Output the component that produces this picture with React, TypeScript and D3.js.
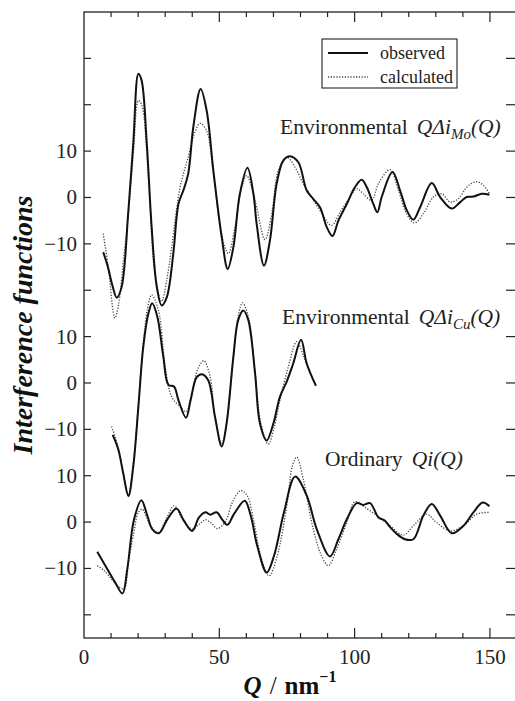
import React from "react";
import * as d3 from "d3";

type P = [number, number];

// Environmental Q·Δi_Mo(Q)
const moObserved: P[] = [[7.1,-11.8],[8.7,-14.7],[10.5,-19],[12.1,-21.6],[13.9,-19.3],[16.4,-2.8],[18.2,11.6],[20.1,26.7],[21.3,25.2],[23.2,11.6],[25.0,-6.4],[26.9,-19.3],[28.7,-23.3],[30.6,-21.5],[33.0,-12.1],[34.9,-1.4],[36.7,1.5],[38.5,5.1],[40.4,15.2],[43.1,23.4],[45.3,18.8],[47.8,5.8],[50.9,-8.6],[53.1,-15.4],[55.2,-10.7],[57.6,0.8],[60.4,6.4],[62.6,0.8],[63.8,-5.7],[66.5,-14.7],[68.7,-9.3],[71.2,3.0],[73.7,8.0],[76.1,8.9],[79.2,7.6],[82.3,1.5],[84.7,-0.3],[87.2,-2.1],[89.7,-6.4],[91.8,-8.3],[94.0,-5.0],[97.1,-1.4],[100.1,2.2],[102.6,3.8],[104.5,2.2],[106.9,-1.4],[108.4,-3.2],[110.0,0.1],[114.0,5.5],[116.8,1.5],[119.3,-2.8],[121.7,-4.8],[124.2,-2.1],[128.5,3.1],[131.6,0.1],[135.9,-2.4],[139.0,-1.0],[141.4,0.1],[143.9,0.2],[147.0,0.8],[149.8,0.6]];
const moCalculated: P[] = [[7.1,-7.8],[9.0,-15.0],[11.4,-26.0],[12.8,-23],[14.5,-14],[16.4,-3.5],[18.3,10],[20.1,20.9],[21.3,20.0],[23.8,4.4],[26.2,-16.5],[28.7,-22.4],[30.5,-18],[32.4,-10.7],[35.5,2.2],[38.5,8.7],[41.0,14.1],[42.9,16.0],[45.3,14.4],[47.8,5.1],[50.9,-8.1],[53.3,-12.1],[55.8,-6.4],[58.3,2.2],[60.1,4.7],[62.6,0.8],[63.8,-2.1],[66.9,-9.1],[69.4,-3.5],[71.8,5.8],[74.9,8.7],[78.0,6.5],[81.0,3.0],[84.1,0.1],[87.2,-2.8],[91.5,-6.0],[94.6,-3.2],[98.3,0.1],[100.8,1.9],[103.2,0.8],[106.3,-0.6],[108.8,3.0],[113.1,6.0],[116.2,1.5],[119.2,-3.5],[122.1,-5.5],[125.4,-3.5],[129.1,0.1],[132.2,0.8],[135.3,-1.0],[138.3,-0.3],[141.4,2.2],[144.9,3.4],[147.6,2.6],[149.8,0.8]];

// Environmental Q·Δi_Cu(Q)
const cuObserved: P[] = [[10.6,-11.2],[12.7,-14.4],[14.5,-19.5],[16.4,-24.4],[18.2,-18.0],[20.1,-5.1],[21.9,7.8],[23.8,15.0],[25.2,17.2],[27.1,14.3],[29.3,5.7],[31.2,-0.4],[33.3,-0.8],[34.9,-3.7],[37.7,-7.5],[39.4,-3.7],[41.6,1.2],[43.5,1.9],[45.9,0.6],[48.4,-7.3],[50.9,-13.7],[52.7,-8.7],[55.2,5.7],[57.0,13.6],[58.9,15.6],[60.7,13.6],[63.2,2.1],[65.0,-8.7],[67.5,-12.4],[70.0,-8.7],[72.4,-3.0],[74.9,0.3],[77.3,4.2],[80.2,9.3],[82.3,4.2],[85.7,-0.6]];
const cuCalculated: P[] = [[10.2,-9.4],[12.7,-14.0],[14.5,-19.5],[16.4,-24.0],[18.2,-17.5],[20.1,-4.5],[21.9,8.5],[23.6,16.5],[25.0,19.0],[27.5,15.7],[30.0,3.5],[32.4,-3.0],[35.5,-5.1],[37.7,-6.2],[39.8,-2.2],[42.2,3.2],[44.3,4.8],[46.6,1.4],[48.4,-7.3],[50.9,-13.0],[52.7,-8.5],[55.2,5.5],[57.0,14.5],[58.6,17.3],[60.7,14.3],[63.2,2.5],[65.3,-8.5],[68.1,-13.2],[70.3,-9.5],[72.4,-3.7],[75.5,3.5],[78.6,8.9],[81.0,6.0],[83.2,2.5],[85.4,-0.2]];

// Ordinary Q·i(Q)
const ordObserved: P[] = [[4.9,-6.4],[8.6,-10.1],[11.5,-13],[14.2,-15.4],[16.0,-10.1],[18.5,0.6],[21.2,4.7],[23.4,1.4],[25.2,-1.5],[27.7,-2.4],[30.8,0.6],[34.2,2.9],[36.9,0.3],[40.0,-1.9],[42.5,1.0],[44.9,2.1],[46.7,1.6],[49.0,2.1],[51.0,0.6],[53.0,-0.6],[55.4,1.7],[59.4,4.6],[61.6,1.4],[64.0,-5.1],[67.5,-10.9],[70.2,-7.3],[73.9,2.1],[78.0,9.8],[82.3,5.7],[86.0,-1.5],[90.9,-7.4],[94.0,-3.7],[97.1,0.6],[100.8,4.1],[103.2,3.7],[105.7,4.1],[108.8,1.0],[111.2,0.3],[113.1,-1.1],[115.5,-2.5],[118.6,-3.7],[121.7,-3.7],[125.4,1.4],[128.5,3.9],[131.6,1.4],[135.9,-2.4],[140.2,-0.8],[143.9,2.1],[147.3,4.2],[149.8,3.4]];
const ordCalculated: P[] = [[4.9,-9.4],[7.5,-10.5],[10.5,-12.5],[13.0,-14.0],[14.8,-14.4],[16.6,-8],[18.5,-2],[20.0,2.0],[21.5,2.8],[23.5,0.5],[25.5,-1.5],[27.7,-2.2],[30.5,0.8],[33.3,3.5],[36.5,0.5],[40.0,-1.5],[42.5,-0.5],[44.9,0.5],[47.0,-0.2],[49.3,-1.4],[52.4,0.3],[54.8,4.2],[57.9,6.8],[60.3,5.7],[62.8,0],[65.3,-7.3],[68.4,-11.6],[71.4,-7.3],[75.1,4.2],[77.0,12.1],[78.6,14.0],[81.0,9.3],[84.7,-1.5],[87.8,-7.3],[90.3,-9.4],[93.4,-5.8],[97.1,-0.1],[100.1,4.4],[103.2,3.4],[108.2,1.4],[113.1,-0.8],[118.0,-2.8],[121.7,-0.8],[126.6,1.7],[130.3,-0.1],[135.3,-1.9],[140.2,-0.8],[145.1,1.7],[149.8,2.1]];

// vertical offsets of the stacked curves (in y units)
const seriesOffsets = [70, 30, 0];
const localTickLabels = [-10, 0, 10];
const xTickLabels = [0, 50, 100, 150];
const legendLabels = ["observed", "calculated"];

const W = 515, H = 701;
const L = 84, R = 517, T = 12, B = 638;
const FONT = "Liberation Serif, Times New Roman, Times, DejaVu Serif, serif";

export default function App() {
  const x = d3.scaleLinear().domain([0, 160]).range([L, R]);
  const y = d3.scaleLinear().domain([-25, 110]).range([B, T]);

  const mk = (off: number) =>
    d3.line<P>().x(d => x(d[0])).y(d => y(d[1] + off)).curve(d3.curveCatmullRom.alpha(0.5));

  const series = [
    { obs: moObserved, calc: moCalculated, off: seriesOffsets[0] },
    { obs: cuObserved, calc: cuCalculated, off: seriesOffsets[1] },
    { obs: ordObserved, calc: ordCalculated, off: seriesOffsets[2] },
  ];

  const yTicks = d3.range(-20, 101, 10);
  const xTicks = d3.range(10, 160, 10);
  const labeled = seriesOffsets.flatMap(o => localTickLabels.map(v => ({ g: o + v, v })));

  const solid = { fill: "none", stroke: "#111", strokeWidth: 2 };
  const dotted = { fill: "none", stroke: "#444", strokeWidth: 1.3, strokeDasharray: "1.2 1.6" };
  const tf = { fontFamily: FONT };

  return (
    <svg width={W} height={H} style={{ position: "absolute", left: 0, top: 0, background: "#fff", fontFamily: FONT }}>
      <rect x={0} y={0} width={W} height={H} fill="#fff" />
      {/* frame */}
      <rect x={L} y={T} width={R - L} height={B - T} fill="none" stroke="#222" strokeWidth={1.3} />
      {/* y ticks left and right */}
      {yTicks.map(g => (
        <g key={"yt" + g}>
          <line x1={L} x2={L + 7} y1={y(g)} y2={y(g)} stroke="#222" strokeWidth={1.2} />
          <line x1={R} x2={R - 11} y1={y(g)} y2={y(g)} stroke="#222" strokeWidth={1.2} />
        </g>
      ))}
      {/* x ticks top and bottom */}
      {xTicks.map(q => {
        const len = q % 50 === 0 ? 10 : 5;
        return (
          <g key={"xt" + q}>
            <line x1={x(q)} x2={x(q)} y1={B} y2={B - len} stroke="#222" strokeWidth={1.2} />
            <line x1={x(q)} x2={x(q)} y1={T} y2={T + len} stroke="#222" strokeWidth={1.2} />
          </g>
        );
      })}
      {/* y tick labels */}
      {labeled.map(t => (
        <text key={"yl" + t.g} x={77} y={y(t.g) + 7} textAnchor="end" fontSize={21} fill="#222" style={tf}>
          {t.v < 0 ? "\u2212" + Math.abs(t.v) : String(t.v)}
        </text>
      ))}
      {/* x tick labels */}
      {xTickLabels.map(q => (
        <text key={"xl" + q} x={x(q)} y={664} textAnchor="middle" fontSize={21} fill="#222" style={tf}>{q}</text>
      ))}
      {/* curves */}
      {series.map((s, i) => (
        <g key={"s" + i}>
          <path d={mk(s.off)(s.calc) || ""} {...dotted} />
          <path d={mk(s.off)(s.obs) || ""} {...solid} />
        </g>
      ))}
      {/* legend */}
      <rect x={322} y={39} width={135} height={49} fill="#fff" stroke="#222" strokeWidth={1.1} />
      <line x1={328} x2={368} y1={53} y2={53} {...solid} />
      <line x1={328} x2={368} y1={77} y2={77} {...dotted} />
      <text x={380} y={59} fontSize={18} fill="#222" style={tf}>{legendLabels[0]}</text>
      <text x={380} y={83} fontSize={18} fill="#222" style={tf}>{legendLabels[1]}</text>
      {/* annotations */}
      <text x={280} y={134} fontSize={21.5} fill="#222" style={tf}>
        Environmental
        <tspan dx={9} fontStyle="italic">QΔi</tspan>
        <tspan dy={5} fontSize={15} fontStyle="italic">Mo</tspan>
        <tspan dy={-5} fontStyle="italic">(Q)</tspan>
      </text>
      <text x={282} y={324} fontSize={21.5} fill="#222" style={tf}>
        Environmental
        <tspan dx={9} fontStyle="italic">QΔi</tspan>
        <tspan dy={5} fontSize={15} fontStyle="italic">Cu</tspan>
        <tspan dy={-5} fontStyle="italic">(Q)</tspan>
      </text>
      <text x={325} y={466} fontSize={21.5} fill="#222" style={tf}>
        Ordinary
        <tspan dx={9} fontStyle="italic">Qi(Q)</tspan>
      </text>
      {/* axis titles */}
      <text x={290} y={694} textAnchor="middle" fontSize={25} fill="#111" style={tf}>
        <tspan fontStyle="italic" fontWeight="bold">Q</tspan>
        <tspan dx={8}>/</tspan>
        <tspan dx={8} fontWeight="bold">nm</tspan>
        <tspan dy={-12} fontSize={16} fontWeight="bold">−1</tspan>
      </text>
      <text transform="translate(32,325) rotate(-90)" textAnchor="middle" fontSize={28}
        fontStyle="italic" fontWeight="bold" fill="#111" style={tf}>Interference functions</text>
    </svg>
  );
}
